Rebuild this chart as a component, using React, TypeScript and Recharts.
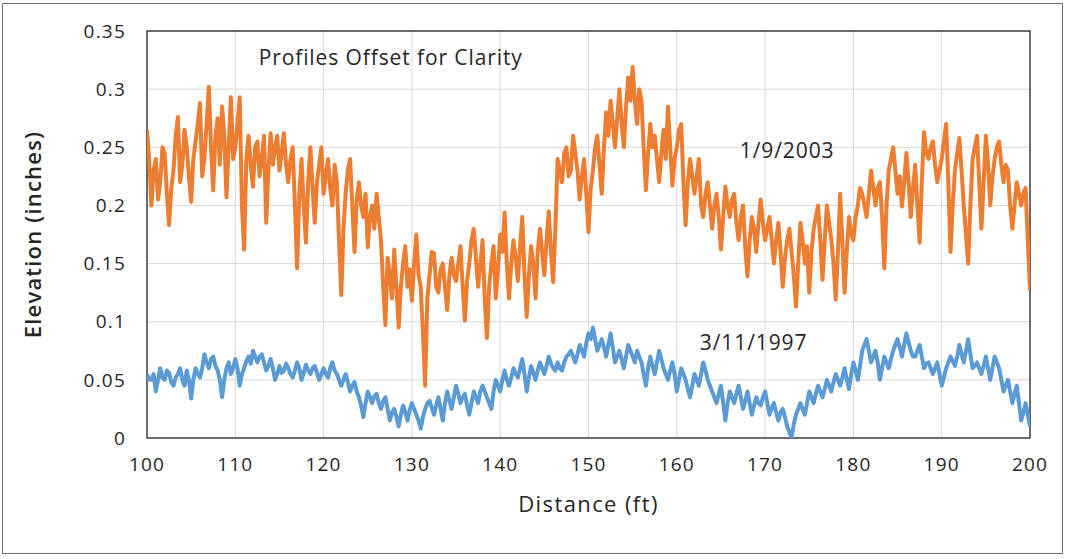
import React from 'react';
import {
  LineChart,
  Line,
  XAxis,
  YAxis,
  CartesianGrid,
  ReferenceArea,
  ReferenceDot,
} from 'recharts';

// Sampling of the profiles (ft)
const START_FT = 100;
const STEP_FT = 0.25;

// 1/9/2003 profile (offset upward for clarity), one value every 0.25 ft from 100 to 200
const PROFILE_2003: number[] = [
  0.265, 0.24, 0.2, 0.23, 0.24, 0.205, 0.22, 0.25, 0.245, 0.21, 0.183, 0.215, 0.23, 0.26, 0.276, 0.22, 0.235, 0.265, 0.25, 0.225,
  0.203, 0.24, 0.255, 0.27, 0.288, 0.225, 0.24, 0.27, 0.302, 0.25, 0.213, 0.26, 0.275, 0.235, 0.285, 0.26, 0.207, 0.25, 0.293, 0.24,
  0.25, 0.27, 0.293, 0.2, 0.162, 0.24, 0.26, 0.235, 0.216, 0.25, 0.255, 0.225, 0.24, 0.26, 0.185, 0.23, 0.262, 0.235, 0.25, 0.26,
  0.23, 0.245, 0.262, 0.235, 0.22, 0.24, 0.25, 0.2, 0.146, 0.21, 0.24, 0.2, 0.168, 0.22, 0.25, 0.215, 0.185, 0.22, 0.235, 0.25,
  0.21, 0.225, 0.24, 0.215, 0.2, 0.235, 0.22, 0.17, 0.123, 0.18, 0.21, 0.23, 0.24, 0.2, 0.16, 0.205, 0.22, 0.2, 0.19, 0.21,
  0.164, 0.19, 0.2, 0.18, 0.21, 0.19, 0.17, 0.13, 0.097, 0.155, 0.14, 0.12, 0.162, 0.13, 0.095, 0.13, 0.15, 0.165, 0.13, 0.145,
  0.118, 0.15, 0.175, 0.14, 0.13, 0.09, 0.045, 0.12, 0.14, 0.16, 0.159, 0.13, 0.125, 0.145, 0.15, 0.13, 0.11, 0.14, 0.155, 0.14,
  0.135, 0.15, 0.165, 0.13, 0.101, 0.135, 0.15, 0.17, 0.18, 0.155, 0.13, 0.15, 0.17, 0.12, 0.086, 0.13, 0.15, 0.165, 0.12, 0.145,
  0.175, 0.16, 0.194, 0.15, 0.12, 0.15, 0.17, 0.155, 0.135, 0.165, 0.19, 0.14, 0.104, 0.14, 0.165, 0.15, 0.12, 0.16, 0.18, 0.16,
  0.14, 0.17, 0.195, 0.16, 0.134, 0.18, 0.24, 0.23, 0.22, 0.245, 0.25, 0.225, 0.23, 0.26, 0.245, 0.23, 0.205, 0.225, 0.24, 0.21,
  0.177, 0.215, 0.23, 0.25, 0.26, 0.235, 0.21, 0.25, 0.28, 0.26, 0.29, 0.27, 0.25, 0.275, 0.3, 0.27, 0.25, 0.285, 0.31, 0.29,
  0.319, 0.29, 0.27, 0.3, 0.29, 0.25, 0.213, 0.245, 0.27, 0.25, 0.26, 0.24, 0.22, 0.245, 0.265, 0.24, 0.285, 0.25, 0.217, 0.24,
  0.25, 0.265, 0.27, 0.22, 0.183, 0.22, 0.24, 0.225, 0.21, 0.225, 0.24, 0.2, 0.19, 0.21, 0.22, 0.2, 0.18, 0.2, 0.21, 0.19,
  0.162, 0.19, 0.216, 0.2, 0.19, 0.205, 0.21, 0.185, 0.17, 0.19, 0.2, 0.165, 0.139, 0.17, 0.19, 0.18, 0.16, 0.185, 0.205, 0.185,
  0.17, 0.18, 0.19, 0.17, 0.15, 0.17, 0.185, 0.16, 0.13, 0.155, 0.17, 0.18, 0.16, 0.14, 0.113, 0.15, 0.185, 0.17, 0.15, 0.165,
  0.125, 0.16, 0.18, 0.19, 0.2, 0.17, 0.136, 0.17, 0.2, 0.185, 0.17, 0.15, 0.119, 0.16, 0.21, 0.17, 0.125, 0.16, 0.19, 0.175,
  0.17, 0.19, 0.2, 0.215, 0.21, 0.2, 0.19, 0.21, 0.23, 0.215, 0.2, 0.215, 0.22, 0.19, 0.146, 0.2, 0.23, 0.24, 0.25, 0.23,
  0.21, 0.225, 0.199, 0.22, 0.245, 0.22, 0.19, 0.215, 0.235, 0.2, 0.168, 0.22, 0.263, 0.245, 0.24, 0.25, 0.255, 0.235, 0.22, 0.23,
  0.24, 0.255, 0.27, 0.22, 0.16, 0.2, 0.23, 0.245, 0.258, 0.23, 0.2, 0.175, 0.15, 0.2, 0.24, 0.25, 0.26, 0.22, 0.18, 0.22,
  0.26, 0.235, 0.2, 0.225, 0.24, 0.25, 0.255, 0.235, 0.22, 0.235, 0.23, 0.2, 0.18, 0.2, 0.22, 0.21, 0.2, 0.21, 0.215, 0.17,
  0.127,
];

// 3/11/1997 profile, one value every 0.25 ft from 100 to 200
const PROFILE_1997: number[] = [
  0.055, 0.05, 0.05, 0.055, 0.04, 0.05, 0.06, 0.052, 0.05, 0.058, 0.056, 0.048, 0.045, 0.052, 0.055, 0.06, 0.05, 0.045, 0.058, 0.05,
  0.034, 0.05, 0.06, 0.055, 0.052, 0.06, 0.072, 0.065, 0.06, 0.068, 0.07, 0.062, 0.058, 0.05, 0.035, 0.05, 0.06, 0.065, 0.055, 0.06,
  0.068, 0.06, 0.045, 0.055, 0.06, 0.066, 0.07, 0.064, 0.075, 0.07, 0.065, 0.07, 0.072, 0.065, 0.058, 0.062, 0.068, 0.06, 0.05, 0.055,
  0.062, 0.056, 0.058, 0.064, 0.06, 0.055, 0.052, 0.058, 0.065, 0.06, 0.05, 0.056, 0.063, 0.058, 0.055, 0.06, 0.062, 0.056, 0.05, 0.055,
  0.06, 0.055, 0.052, 0.06, 0.065, 0.058, 0.055, 0.05, 0.045, 0.05, 0.055, 0.048, 0.04, 0.045, 0.048, 0.04, 0.035, 0.028, 0.018, 0.03,
  0.04, 0.035, 0.03, 0.036, 0.038, 0.03, 0.025, 0.032, 0.035, 0.025, 0.015, 0.022, 0.025, 0.018, 0.01, 0.02, 0.028, 0.022, 0.015, 0.024,
  0.03, 0.025, 0.02, 0.015, 0.008, 0.018, 0.025, 0.03, 0.032, 0.026, 0.02, 0.028, 0.035, 0.025, 0.015, 0.03, 0.04, 0.032, 0.025, 0.035,
  0.045, 0.038, 0.03, 0.035, 0.038, 0.028, 0.02, 0.03, 0.04, 0.035, 0.03, 0.04, 0.045, 0.04, 0.035, 0.03, 0.025, 0.04, 0.05, 0.045,
  0.04, 0.05, 0.058, 0.05, 0.045, 0.052, 0.06, 0.055, 0.052, 0.06, 0.068, 0.055, 0.04, 0.052, 0.062, 0.056, 0.05, 0.058, 0.065, 0.06,
  0.055, 0.062, 0.07, 0.064, 0.06, 0.058, 0.065, 0.06, 0.058, 0.065, 0.07, 0.072, 0.075, 0.07, 0.065, 0.072, 0.08, 0.075, 0.07, 0.082,
  0.09, 0.085, 0.095, 0.085, 0.075, 0.08, 0.085, 0.078, 0.07, 0.08, 0.09, 0.078, 0.065, 0.07, 0.075, 0.068, 0.06, 0.07, 0.08, 0.075,
  0.07, 0.065, 0.075, 0.07, 0.065, 0.055, 0.045, 0.06, 0.07, 0.062, 0.055, 0.065, 0.075, 0.068, 0.06, 0.055, 0.05, 0.058, 0.065, 0.055,
  0.04, 0.05, 0.06, 0.055, 0.05, 0.042, 0.035, 0.045, 0.055, 0.05, 0.045, 0.055, 0.065, 0.058, 0.05, 0.045, 0.04, 0.035, 0.03, 0.038,
  0.045, 0.03, 0.015, 0.03, 0.04, 0.035, 0.03, 0.038, 0.045, 0.035, 0.025, 0.032, 0.04, 0.03, 0.02, 0.028, 0.035, 0.03, 0.028, 0.035,
  0.04, 0.03, 0.02, 0.026, 0.03, 0.022, 0.015, 0.022, 0.025, 0.018, 0.01, 0.005, 0.0, 0.012, 0.02, 0.025, 0.03, 0.025, 0.02, 0.03,
  0.04, 0.035, 0.03, 0.038, 0.045, 0.04, 0.035, 0.042, 0.05, 0.045, 0.04, 0.048, 0.055, 0.05, 0.045, 0.052, 0.06, 0.05, 0.042, 0.055,
  0.065, 0.058, 0.05, 0.062, 0.075, 0.08, 0.085, 0.075, 0.065, 0.07, 0.075, 0.065, 0.05, 0.06, 0.07, 0.065, 0.06, 0.068, 0.075, 0.08,
  0.085, 0.078, 0.07, 0.08, 0.09, 0.082, 0.075, 0.07, 0.07, 0.075, 0.08, 0.07, 0.06, 0.064, 0.065, 0.06, 0.055, 0.06, 0.065, 0.055,
  0.045, 0.052, 0.06, 0.065, 0.07, 0.066, 0.062, 0.07, 0.08, 0.072, 0.065, 0.075, 0.085, 0.072, 0.06, 0.062, 0.065, 0.06, 0.055, 0.062,
  0.07, 0.06, 0.05, 0.06, 0.07, 0.065, 0.06, 0.05, 0.04, 0.045, 0.05, 0.04, 0.03, 0.038, 0.045, 0.03, 0.015, 0.022, 0.03, 0.02,
  0.01,
];

const X_TICKS = [100, 110, 120, 130, 140, 150, 160, 170, 180, 190, 200];
const Y_TICKS = [0, 0.05, 0.1, 0.15, 0.2, 0.25, 0.3, 0.35];

const SERIES_NAMES = { p1997: '3/11/1997', p2003: '1/9/2003' };
const NOTE_TEXT = 'Profiles Offset for Clarity';

const data = PROFILE_2003.map((v, i) => ({
  x: START_FT + i * STEP_FT,
  p2003: v,
  p1997: PROFILE_1997[i],
}));

const FONT = "'Open Sans', 'Liberation Sans', sans-serif";
const TEXT_COLOR = '#262626';

const tickStyle = { fontSize: 19, fill: TEXT_COLOR, fontFamily: FONT, letterSpacing: 1.2 };
const noteStyle = { fontSize: 21, fill: TEXT_COLOR, fontFamily: FONT, letterSpacing: 0.9 };

export default function App() {
  return (
    <div
      style={{
        position: 'absolute',
        left: 0,
        top: 0,
        width: 1066,
        height: 559,
        background: '#fff',
        fontFamily: FONT,
      }}
    >
      <div
        style={{
          position: 'absolute',
          left: 2,
          top: 3,
          width: 1059,
          height: 549,
          border: '1.5px solid #707070',
          pointerEvents: 'none',
        }}
      />
      <LineChart
        width={1066}
        height={559}
        data={data}
        margin={{ top: 31, right: 36, bottom: 0, left: 0 }}
      >
        <CartesianGrid stroke="#d9d9d9" strokeWidth={1} />
        <XAxis
          dataKey="x"
          type="number"
          domain={[100, 200]}
          ticks={X_TICKS}
          allowDataOverflow
          axisLine={false}
          tickLine={false}
          tickSize={0}
          tickMargin={20}
          height={121}
          tick={tickStyle}
          label={{
            value: 'Distance (ft)',
            position: 'insideBottom',
            offset: 47,
            fontSize: 22,
            letterSpacing: 1.4,
            fill: TEXT_COLOR,
            fontFamily: FONT,
          }}
        />
        <YAxis
          type="number"
          domain={[0, 0.35]}
          ticks={Y_TICKS}
          allowDataOverflow
          axisLine={false}
          tickLine={false}
          tickSize={0}
          tickMargin={21}
          width={147}
          tick={tickStyle}
          label={{
            value: 'Elevation (inches)',
            angle: -90,
            position: 'insideLeft',
            offset: 33,
            fontSize: 22,
            fontWeight: 600,
            letterSpacing: 1.2,
            fill: TEXT_COLOR,
            fontFamily: FONT,
            style: { textAnchor: 'middle' },
          }}
        />
        <ReferenceArea
          x1={100}
          x2={200}
          y1={0}
          y2={0.35}
          fill="none"
          stroke="#404040"
          strokeWidth={1.5}
          fillOpacity={0}
        />
        <Line
          type="linear"
          dataKey="p1997"
          name={SERIES_NAMES.p1997}
          stroke="#5B9BD5"
          strokeWidth={4}
          strokeLinejoin="round"
          dot={false}
          isAnimationActive={false}
        />
        <Line
          type="linear"
          dataKey="p2003"
          name={SERIES_NAMES.p2003}
          stroke="#ED7D31"
          strokeWidth={4}
          strokeLinejoin="round"
          dot={false}
          isAnimationActive={false}
        />
        <ReferenceDot
          x={127.6}
          y={0.327}
          r={0}
          fill="none"
          stroke="none"
          label={{ value: NOTE_TEXT, position: 'center', ...noteStyle }}
        />
        <ReferenceDot
          x={172.5}
          y={0.2476}
          r={0}
          fill="none"
          stroke="none"
          label={{ value: SERIES_NAMES.p2003, position: 'center', ...noteStyle }}
        />
        <ReferenceDot
          x={168.7}
          y={0.0817}
          r={0}
          fill="none"
          stroke="none"
          label={{ value: SERIES_NAMES.p1997, position: 'center', ...noteStyle }}
        />
      </LineChart>
    </div>
  );
}
